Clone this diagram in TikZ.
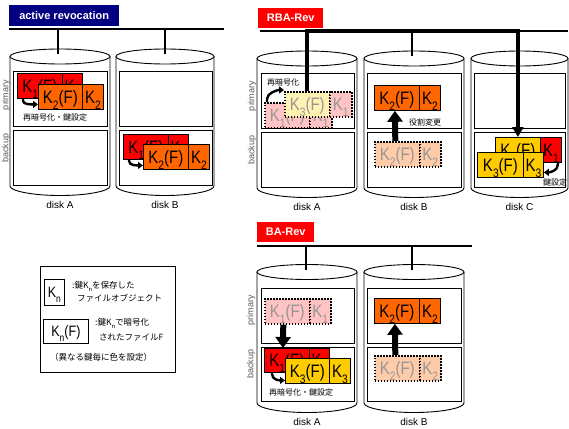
\documentclass[tikz,border=0pt]{standalone}
\usepackage{fontspec}
\usepackage{graphicx}
\setmainfont{Liberation Sans}
\newfontfamily\jp{Noto Sans CJK JP}
\usetikzlibrary{arrows.meta}
\definecolor{navy}{RGB}{0,0,128}
\definecolor{kred}{RGB}{255,0,0}
\definecolor{korange}{RGB}{255,102,0}
\definecolor{kyellow}{RGB}{255,204,0}
\definecolor{fpink}{RGB}{255,195,195}
\definecolor{fpeach}{RGB}{255,204,170}
\definecolor{fyellow}{RGB}{255,242,178}
\definecolor{ftext}{RGB}{150,150,150}
\definecolor{rolegray}{RGB}{90,90,90}
\newcommand\sbs[1]{\raisebox{-0.35em}{\scalebox{0.68}{#1}}}
\newcommand\KF[1]{\scalebox{1}[1.2]{K\sbs{#1}(F)}}
\newcommand\KK[1]{\scalebox{1}[1.2]{K\sbs{#1}}}
\newcommand\drawdisk[6]{%
  \pgfmathsetmacro\dcx{(#1+#2)/2}%
  \pgfmathsetmacro\drx{(#2-#1)/2}%
  \draw[diskline] (\dcx,#3) ellipse [x radius=\drx, y radius=7.5];
  \draw[diskline] (#1,#3) -- (#1,#4) .. controls (#1,#4+5) and (\dcx-0.55*\drx,#4+9.5) .. (\dcx,#4+9.5) .. controls (\dcx+0.55*\drx,#4+9.5) and (#2,#4+5) .. (#2,#4) -- (#2,#3);
  \node[disklabel] (#5) at (\dcx,#4+18.5) {#6};
}
\begin{document}
\begin{tikzpicture}[x=1pt,y=-1pt,
  diskline/.style={line width=0.9pt},
  slot/.style={line width=0.9pt},
  bus/.style={line width=1.2pt},
  fbox/.style={draw, line width=0.8pt, anchor=north west, inner sep=0pt, minimum height=25pt,
     font=\fontsize{15}{15}\selectfont, text height=12.5pt, text depth=0pt},
  wf/.style={minimum width=45pt},
  wk/.style={minimum width=21pt},
  cred/.style={fill=kred},
  corange/.style={fill=korange},
  cyel/.style={fill=kyellow},
  faded/.style={dash pattern=on 1.5pt off 1.5pt, line width=1.6pt, text=ftext},
  fpinkst/.style={faded, fill=fpink},
  fpeachst/.style={faded, fill=fpeach},
  fyelst/.style={faded, fill=fyellow},
  title/.style={anchor=north west, inner sep=0pt, text=white, font=\fontsize{11}{11}\selectfont\bfseries},
  role/.style={rotate=90, font=\fontsize{9}{9}\selectfont, text=rolegray},
  disklabel/.style={font=\fontsize{10}{10}\selectfont},
  note/.style={font=\jp\fontsize{8}{8}\selectfont, inner sep=0pt},
  lnote/.style={font=\jp\fontsize{8.5}{8.5}\selectfont, inner sep=0pt, anchor=west},
  carrow/.style={line width=2.4pt, -{Triangle[width=7pt,length=5pt]}},
  bigarrow/.style={line width=6pt, -{Triangle[width=15pt,length=11pt]}},
  ringline/.style={line width=4pt, line join=miter, -{Triangle[width=11pt,length=10pt]}},
]
\fill[white] (0,0) rectangle (569,428);
\useasboundingbox (0,0) rectangle (569,428);

% ---------------- Panel 1: active revocation ----------------
\node[title, fill=navy, minimum width=110pt, minimum height=21pt] (t1) at (9,5) {active revocation};
\coordinate (b1l) at (9,29); \coordinate (b1r) at (224,29);
\draw[bus] (b1l) -- (b1r);
\drawdisk{10}{110}{56.5}{186}{l1a}{disk A}
\drawdisk{116}{214}{56.5}{186}{l1b}{disk B}
\coordinate (b1a) at (58,29); \coordinate (d1a) at (58,54);
\coordinate (b1b) at (165,29); \coordinate (d1b) at (165,54);
\draw[bus] (b1a) -- (d1a);
\draw[bus] (b1b) -- (d1b);
\draw[slot] (13,71) rectangle (107,126);
\draw[slot] (13,130) rectangle (107,185);
\draw[slot] (119,71) rectangle (212,126);
\draw[slot] (119,130) rectangle (212,185);
\node[role] (r1p) at (6,95) {primary};
\node[role] (r1b) at (6,148) {backup};

\node[fbox,wf,cred] (p1a1f) at (17,73) {\KF{1}};
\node[fbox,minimum width=20pt,cred] (p1a1k) at (62,73) {\KK{1}};
\node[fbox,minimum width=44pt,corange] (p1a2f) at (38,84) {\KF{2}};
\node[fbox,wk,corange] (p1a2k) at (82,84) {\KK{2}};
\draw[carrow] ([xshift=6pt]p1a1f.south west) -- ++(0,2) .. controls +(0,4) and +(-6,0) .. ([yshift=-7.5pt]p1a2f.west);
\node[note] (n1a) at (55,117) {再暗号化・鍵設定};

\node[fbox,wf,cred] (p1b1f) at (123,134) {\KF{1}};
\node[fbox,minimum width=20pt,cred] (p1b1k) at (168,134) {\KK{1}};
\node[fbox,wf,corange] (p1b2f) at (143,144) {\KF{2}};
\node[fbox,wk,corange] (p1b2k) at (188,144) {\KK{2}};
\draw[carrow] ([xshift=6pt]p1b1f.south west) -- ++(0,1) .. controls +(0,5) and +(-6,0) .. ([yshift=-8.5pt]p1b2f.west);

% ---------------- Panel 2: RBA-Rev ----------------
\node[title, fill=kred, minimum width=65pt, minimum height=20pt] (t2) at (258,8) {RBA-Rev};
\coordinate (b2l) at (260,31); \coordinate (b2r) at (568,31);
\draw[bus] (b2l) -- (b2r);
\drawdisk{257}{357}{58.5}{188}{l2a}{disk A}
\drawdisk{364}{464}{58.5}{188}{l2b}{disk B}
\drawdisk{471}{568}{58.5}{188}{l2c}{disk C}
\coordinate (b2b) at (412,31); \coordinate (d2b) at (412,56);
\draw[bus] (b2b) -- (d2b);
\draw[slot] (261,73) rectangle (354,128);
\draw[slot] (261,132) rectangle (354,187);
\draw[slot] (367,73) rectangle (461,128);
\draw[slot] (367,132) rectangle (461,187);
\draw[slot] (474,73) rectangle (565,128);
\draw[slot] (474,132) rectangle (565,187);
\node[role] (r2p) at (252,96) {primary};
\node[role] (r2b) at (252,150) {backup};

\node[fbox,wf,fpinkst] (p2a1f) at (264,102) {\KF{1}};
\node[fbox,minimum width=22pt,fpinkst] (p2a1k) at (309,102) {\KK{1}};
\node[fbox,wf,fyelst] (p2a3f) at (284,91) {\KF{3}};
\node[fbox,minimum width=22pt,fpinkst] (p2a3k) at (329,91) {\KK{1}};
\draw[carrow] ([xshift=3pt]p2a1f.north west) -- ++(0,-3) .. controls +(0,-6) and +(-7,0) .. ([yshift=1pt]p2a3f.north west);
\node[note] (n2a) at (283,82) {再暗号化};

\node[fbox,wf,corange] (p2b2f) at (374,85) {\KF{2}};
\node[fbox,wk,corange] (p2b2k) at (419,85) {\KK{2}};
\node[fbox,wf,fpeachst] (p2b2o) at (374,141) {\KF{2}};
\node[fbox,wk,fpeachst] (p2b2ok) at (419,141) {\KK{2}};
\draw[bigarrow] ([xshift=-2pt]p2b2o.north) -- ([xshift=-2pt]p2b2f.south);
\node[note] (n2b) at (425,122) {役割変更};

\node[fbox,wf,cyel] (p2c3b) at (495,137) {\KF{3}};
\node[fbox,wk,cred] (p2c1k) at (540,137) {\KK{1}};
\node[fbox,minimum width=46pt,cyel] (p2c3f) at (477,152) {\KF{3}};
\node[fbox,minimum width=20pt,cyel] (p2c3k) at (523,152) {\KK{3}};
\draw[carrow] ([xshift=-4pt]p2c1k.south east) -- ++(0,2) .. controls +(0,6) and +(6,0) .. ([yshift=-7.5pt]p2c3k.east);
\node[note] (n2c) at (555,182) {鍵設定};

\coordinate (bendC) at (p2c3b.north |- 0,31);
\draw[ringline] (p2a3f.north) |- (bendC) -- (p2c3b.north);

% ---------------- Panel 3: BA-Rev ----------------
\node[title, fill=kred, minimum width=57pt, minimum height=20pt] (t3) at (257,222) {BA-Rev};
\coordinate (b3l) at (257,246); \coordinate (b3r) at (472,246);
\draw[bus] (b3l) -- (b3r);
\drawdisk{257}{357}{272}{403}{l3a}{disk A}
\drawdisk{364}{464}{272}{403}{l3b}{disk B}
\coordinate (b3a) at (306,246); \coordinate (d3a) at (306,270);
\coordinate (b3b) at (412,246); \coordinate (d3b) at (412,270);
\draw[bus] (b3a) -- (d3a);
\draw[bus] (b3b) -- (d3b);
\draw[slot] (261,288) rectangle (354,343);
\draw[slot] (261,347) rectangle (354,401);
\draw[slot] (367,288) rectangle (461,343);
\draw[slot] (367,347) rectangle (461,401);
\node[role] (r3p) at (251,310) {primary};
\node[role] (r3b) at (251,364) {backup};

\node[fbox,wf,fpinkst] (p3a1o) at (264,298) {\KF{1}};
\node[fbox,wk,fpinkst] (p3a1ok) at (309,298) {\KK{1}};
\node[fbox,wf,cred,minimum height=24pt] (p3a1f) at (264,348) {\KF{1}};
\node[fbox,minimum width=20pt,minimum height=24pt,cred] (p3a1k) at (309,348) {\KK{1}};
\node[fbox,minimum width=44pt,cyel] (p3a3f) at (285,358) {\KF{3}};
\node[fbox,wk,cyel] (p3a3k) at (329,358) {\KK{3}};
\draw[bigarrow] ([xshift=-4pt]p3a1o.south) -- ([xshift=-4pt]p3a1f.north);
\draw[carrow] ([xshift=8pt]p3a1f.south west) -- ++(0,1) .. controls +(0,6) and +(-6,0) .. ([yshift=-9.5pt]p3a3f.west);
\node[note] (n3a) at (301,392) {再暗号化・鍵設定};

\node[fbox,wf,corange] (p3b2f) at (374,298) {\KF{2}};
\node[fbox,wk,corange] (p3b2k) at (419,298) {\KK{2}};
\node[fbox,wf,fpeachst] (p3b2o) at (374,355) {\KF{2}};
\node[fbox,wk,fpeachst] (p3b2ok) at (419,355) {\KK{2}};
\draw[bigarrow] ([xshift=-2pt]p3b2o.north) -- ([xshift=-2pt]p3b2f.south);

% ---------------- Legend ----------------
\draw[line width=1pt] (40,266) rectangle (175,372);
\node[fbox,minimum width=20pt,minimum height=26pt,font=\fontsize{12.5}{12.5}\selectfont,text height=10.5pt] (lgk) at (44,279) {\KK{n}};
\node[fbox,minimum width=45pt,minimum height=24pt,font=\fontsize{12.5}{12.5}\selectfont,text height=10.5pt] (lgkf) at (43,319) {\KF{n}};
\node[lnote] (lg1) at (72,286) {:鍵K\sbs{n}を保存した};
\node[lnote] (lg2) at (77,298) {ファイルオブジェクト};
\node[lnote] (lg3) at (95,323) {:鍵K\sbs{n}で暗号化};
\node[lnote] (lg4) at (99,337) {されたファイルF};
\node[lnote] (lg5) at (50,357) {（異なる鍵毎に色を設定）};
\end{tikzpicture}
\end{document}
